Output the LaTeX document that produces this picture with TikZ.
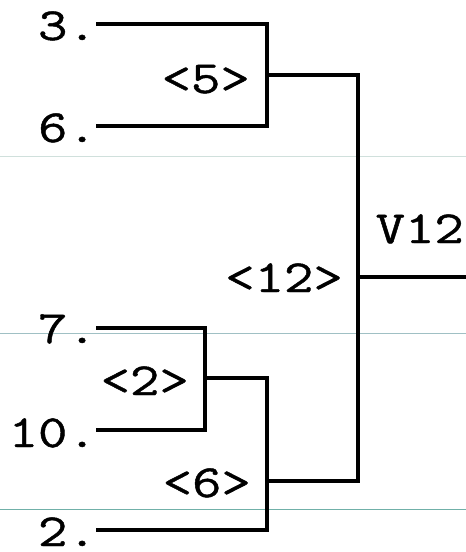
\documentclass[tikz,border=0pt]{standalone}
\usepackage{fontspec}
\newfontfamily\brkfont{Latin Modern Mono}[FakeStretch=1.24,FakeBold=1.0]
\begin{document}
\begin{tikzpicture}[x=1pt,y=-1pt,
  lbl/.style={inner sep=0pt,font=\brkfont\fontsize{46}{46}\selectfont,anchor=base east},
  wire/.style={line width=3.2pt,line join=miter,line cap=rect},
  scanline/.style={line width=0.8pt}]
\useasboundingbox (0,0) rectangle (466,552);
% faint scan lines
\draw[scanline,color={rgb,255:red,208;green,224;blue,220}] (0,156.7) -- (466,156.7);
\draw[scanline,color={rgb,255:red,160;green,192;blue,196}] (0,333.3) -- (466,333.3);
\draw[scanline,color={rgb,255:red,112;green,176;blue,168}] (0,509.3) -- (466,509.3);
% leaf labels
\node[lbl] (t3) at (97,40) {3.};
\node[lbl] (t6) at (97,142) {6.};
\node[lbl] (t7) at (97,343) {7.};
\node[lbl] (t10) at (97,447) {10.};
\node[lbl] (t2) at (97,546) {2.};
% internal labels
\node[lbl] (t5i) at (250,93) {<5>};
\node[lbl] (t2i) at (189,395) {<2>};
\node[lbl] (t6i) at (251,497) {<6>};
\node[lbl] (t12i) at (343,292) {<12>};
\node[lbl] (tv) at (464,243) {V12};
% coordinates
\coordinate (c3) at (98,24);
\coordinate (c6) at (98,126);
\coordinate (c7) at (98,328);
\coordinate (c10) at (98,430);
\coordinate (c2) at (98,530);
\coordinate (m5) at (267,75);
\coordinate (m2) at (205,378);
\coordinate (m6) at (267,481);
\coordinate (m12) at (358,277);
\coordinate (root) at (470,277);
% wires
\draw[wire] (c3) -| (m5) |- (c6);
\draw[wire] (c7) -| (m2) |- (c10);
\draw[wire] (m2) -| (m6) |- (c2);
\draw[wire] (m5) -| (m12) |- (m6);
\draw[wire] (m12) -- (root);
\end{tikzpicture}
\end{document}
